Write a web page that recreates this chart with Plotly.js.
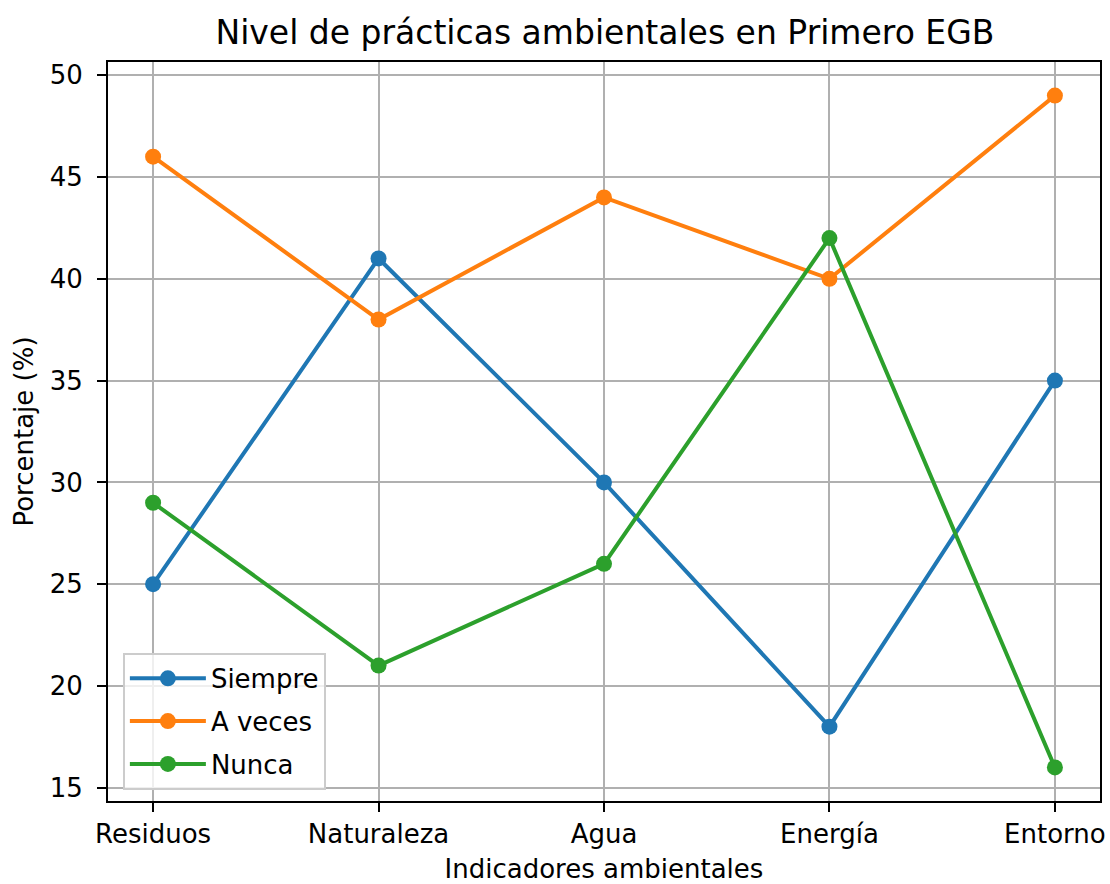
<!DOCTYPE html>
<html>
<head>
<meta charset="utf-8">
<script src="https://cdn.plot.ly/plotly-3.0.1.min.js"></script>
<style>html,body{margin:0;padding:0;background:#fff;}#chart{width:1110px;height:884px;}</style>
</head>
<body>
<div id="chart"></div>
<script>
const categories = ["Residuos", "Naturaleza", "Agua", "Energía", "Entorno"];
const siempre = [25, 41, 30, 18, 35];
const aVeces = [46, 38, 44, 40, 49];
const nunca = [29, 21, 26, 42, 16];
const seriesNames = ["Siempre", "A veces", "Nunca"];
const colors = ["#1f77b4", "#ff7f0e", "#2ca02c"];

const font = "DejaVu Sans, sans-serif";
const traces = [siempre, aVeces, nunca].map((vals, i) => ({
  type: "scatter",
  mode: "lines+markers",
  name: seriesNames[i],
  legendgroup: "g" + i,
  x: categories,
  y: vals,
  line: {color: colors[i], width: 4},
  marker: {color: colors[i], size: 16}
}));

const layout = {
  width: 1110,
  height: 884,
  margin: {l: 108, r: 10, t: 62, b: 83},
  paper_bgcolor: "#ffffff",
  plot_bgcolor: "#ffffff",
  font: {family: font, size: 26, color: "#000"},
  title: {
    text: "Nivel de prácticas ambientales en Primero EGB",
    font: {family: font, size: 33, color: "#000"},
    x: 0.545, xanchor: "center",
    y: 0.963, yanchor: "middle"
  },
  xaxis: {
    type: "category",
    range: [-0.2, 4.2],
    showgrid: true, gridcolor: "#b0b0b0", gridwidth: 2,
    showline: true, linecolor: "#000", linewidth: 2, mirror: true,
    ticks: "outside", ticklen: 9, tickwidth: 2, tickcolor: "#000",
    ticklabelstandoff: 0,
    tickfont: {family: font, size: 26, color: "#000"},
    zeroline: false,
    title: {text: "Indicadores ambientales", font: {family: font, size: 26, color: "#000"}, standoff: 14},
    automargin: false
  },
  yaxis: {
    range: [14.35, 50.65],
    dtick: 5, tick0: 0,
    showgrid: true, gridcolor: "#b0b0b0", gridwidth: 2,
    showline: true, linecolor: "#000", linewidth: 2, mirror: true,
    ticks: "outside", ticklen: 9, tickwidth: 2, tickcolor: "#000",
    ticklabelstandoff: 9,
    tickfont: {family: font, size: 26, color: "#000"},
    zeroline: false,
    title: {text: "Porcentaje (%)", font: {family: font, size: 26, color: "#000"}, standoff: 9},
    automargin: false
  },
  legend: {
    x: 0.015, y: 0.015, xanchor: "left", yanchor: "bottom",
    bgcolor: "rgba(255,255,255,0.8)",
    bordercolor: "#cccccc", borderwidth: 2,
    font: {family: font, size: 26, color: "#000"},
    itemwidth: 76,
    tracegroupgap: 6
  },
  showlegend: true
};

Plotly.newPlot("chart", traces, layout, {displayModeBar: false, staticPlot: true});
</script>
</body>
</html>
